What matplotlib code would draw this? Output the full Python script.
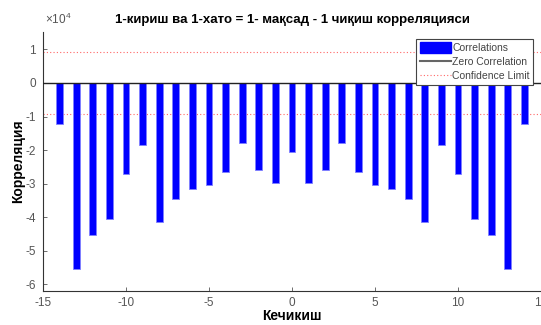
import numpy as np
import matplotlib
matplotlib.use('Agg')
from matplotlib import pyplot as plt
from matplotlib.patches import Patch
from matplotlib.lines import Line2D

plt.rcParams['font.family'] = ['Liberation Sans', 'DejaVu Sans']
plt.rcParams['mathtext.fontset'] = 'custom'
plt.rcParams['mathtext.rm'] = 'Liberation Sans'

# lags and cross-correlation values (units of 1e4)
lags = np.arange(-14, 15)
corr = [-1.23, -5.55, -4.53, -4.05, -2.70, -1.84, -4.15, -3.46, -3.17, -3.05,
        -2.64, -1.80, -2.58, -2.99, -2.07, -2.99, -2.59, -1.80, -2.64, -3.05,
        -3.17, -3.46, -4.15, -1.84, -2.70, -4.05, -4.53, -5.55, -1.23]
conf_limit = 0.91

title = '1-кириш ва 1-хато = 1- мақсад - 1 чиқиш корреляцияси'
xticks = [-15, -10, -5, 0, 5, 10, 15]
yticks = [-6, -5, -4, -3, -2, -1, 0, 1]
legend_labels = ['Correlations', 'Zero Correlation', 'Confidence Limit']

grey = '#555555'
conf_color = '#ff6666'

fig = plt.figure(figsize=(5.41, 3.25), dpi=100)
ax = fig.add_axes([43 / 541, 1 - 291 / 325, 1 - 43 / 541, (291 - 32) / 325])

ax.bar(lags, corr, width=0.42, color='#0000ff', edgecolor='#8080ff',
       linewidth=0.6, zorder=2)
ax.axhline(0, color='#222222', linewidth=1.0, zorder=3)
for c in (conf_limit, -conf_limit):
    ax.axhline(c, color=conf_color, linestyle=(0, (1, 2)), linewidth=0.8, zorder=1)

ax.set_xlim(-15, 15)
ax.set_ylim(-6.2, 1.52)
ax.set_xticks(xticks)
ax.set_yticks(yticks)
ax.set_xticklabels([str(t) for t in xticks])
ax.set_yticklabels([str(t) for t in yticks])

for s in ['top', 'right']:
    ax.spines[s].set_visible(False)
for s in ['left', 'bottom']:
    ax.spines[s].set_color('#333333')
    ax.spines[s].set_linewidth(0.8)
ax.tick_params(colors=grey, labelsize=8.5, length=3, width=0.6, direction='in')
ax.tick_params(axis='x', pad=4)
ax.tick_params(axis='y', pad=5)

ax.text(0.005, 1.02, r'$\times 10^{4}$', transform=ax.transAxes, color=grey,
        fontsize=8.5, ha='left', va='bottom')

fig.text(0.5 * (43 + 541) / 541, 1 - 20 / 325, title, ha='center', va='center',
         fontsize=9.5, fontweight='bold')
ax.set_xlabel('Кечикиш', fontsize=10, fontweight='bold')
ax.set_ylabel('Корреляция', fontsize=10, fontweight='bold')
ax.xaxis.set_label_coords(0.5, (291 - 309) / 259)
ax.xaxis.label.set_va('top')
ax.yaxis.set_label_coords((18 - 43) / 498, 0.5)
ax.yaxis.label.set_va('center')

handles = [Patch(facecolor='#0000ff', edgecolor='#0000ff'),
           Line2D([], [], color='#666666', linewidth=1.5),
           Line2D([], [], color=conf_color, linestyle=(0, (1, 2)), linewidth=0.8)]
# legend anchored by its upper right corner, in figure pixels
leg = ax.legend(handles, legend_labels, loc='upper right',
                bbox_to_anchor=(533 / 541, 1 - 39 / 325),
                bbox_transform=fig.transFigure, fontsize=7.5, fancybox=False,
                framealpha=1, edgecolor='#444444', borderpad=0.3,
                labelspacing=0.3, handlelength=3.0, handleheight=1.25,
                handletextpad=0.15, borderaxespad=0)
leg.get_frame().set_linewidth(0.8)
for t in leg.get_texts():
    t.set_color('#444444')

fig.savefig('out.png', dpi=100)
